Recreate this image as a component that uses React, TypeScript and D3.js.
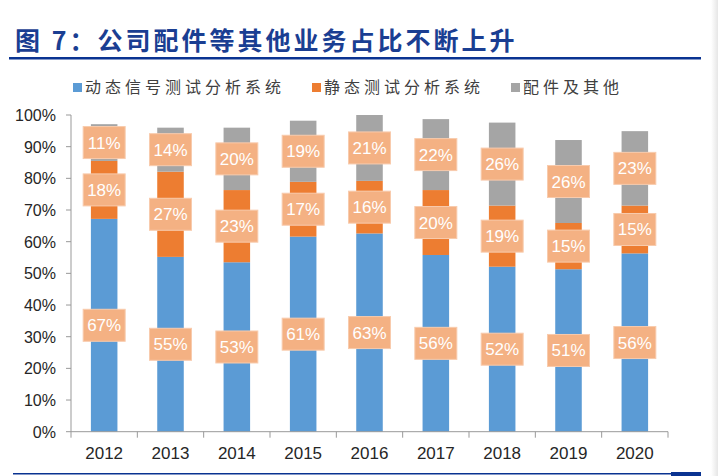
import React from "react";
import * as d3 from "d3";

const years = ["2012", "2013", "2014", "2015", "2016", "2017", "2018", "2019", "2020"];
const dynamicVals = [67.2, 55.2, 53.5, 61.6, 62.6, 55.8, 52.1, 51.3, 56.3];
const staticVals = [18.3, 26.9, 22.8, 17.3, 16.6, 20.5, 19.3, 14.6, 15.1];
const otherVals = [11.6, 13.9, 19.7, 19.3, 20.8, 22.4, 26.2, 26.2, 23.5];
const dynamicLabels = ["67%", "55%", "53%", "61%", "63%", "56%", "52%", "51%", "56%"];
const staticLabels = ["18%", "27%", "23%", "17%", "16%", "20%", "19%", "15%", "15%"];
const otherLabels = ["11%", "14%", "20%", "19%", "21%", "22%", "26%", "26%", "23%"];
const seriesNames = ["动态信号测试分析系统", "静态测试分析系统", "配件及其他"];
const colors = ["#5B9BD5", "#ED7D31", "#A5A5A5"];
const yTicks = [0, 10, 20, 30, 40, 50, 60, 70, 80, 90, 100];

export default function App() {
  const W = 718, H = 476;
  const left = 71, right = 668, top = 115, bottom = 431.7;
  const x = d3.scaleBand<string>().domain(years).range([left, right]).paddingInner(0.6).paddingOuter(0.3);
  const y = d3.scaleLinear().domain([0, 100]).range([bottom, top]);
  const xb = d3.scaleBand<string>().domain(years).range([left, right]);
  const series = [dynamicVals, staticVals, otherVals];
  const labels = [dynamicLabels, staticLabels, otherLabels];
  const font = "'Liberation Sans', Arial, sans-serif";
  const cjk = "'Noto Sans CJK SC', sans-serif";
  const legendX = [73, 312, 511];

  return (
    <svg width={W} height={H} style={{ position: "absolute", left: 0, top: 0, background: "#fff" }}>
      <rect x={0} y={0} width={W} height={H} fill="#fff" />
      <defs>
        <linearGradient id="edge" x1="0" x2="1">
          <stop offset="0" stopColor="#fff" />
          <stop offset="1" stopColor="#e6e6e6" />
        </linearGradient>
      </defs>
      <rect x={711} y={0} width={7} height={H} fill="url(#edge)" />
      <text x={15} y={50} fontFamily={cjk} fontWeight="bold" fontSize={25} letterSpacing={3} fill="#1A3E92">
        图 7：公司配件等其他业务占比不断上升
      </text>
      <rect x={9} y={57} width={692} height={2.5} fill="#0A3391" />
      {seriesNames.map((n, i) => (
        <g key={n}>
          <rect x={legendX[i]} y={83} width={9} height={9} fill={colors[i]} />
          <text x={legendX[i] + 12} y={93} fontFamily={cjk} fontSize={16} letterSpacing={4} fill="#404040">{n}</text>
        </g>
      ))}
      {yTicks.map((t) => (
        <g key={t}>
          <line x1={66} x2={left} y1={y(t)} y2={y(t)} stroke="#999" />
          <text x={56} y={y(t) + 6} textAnchor="end" fontFamily={font} fontSize={16} fill="#262626">{t}%</text>
        </g>
      ))}
      <line x1={left} x2={left} y1={top} y2={bottom} stroke="#999" />
      {years.map((yr, i) => {
        let acc = 0;
        return (
          <g key={yr}>
            {series.map((s, k) => {
              const y0 = acc;
              acc += s[i];
              return (
                <rect key={k} x={x(yr)} width={x.bandwidth()} y={y(acc)} height={y(y0) - y(acc)} fill={colors[k]} />
              );
            })}
          </g>
        );
      })}
      {years.map((yr, i) => {
        let acc = 0;
        const cx = (x(yr) as number) + x.bandwidth() / 2;
        return (
          <g key={"l" + yr}>
            {series.map((s, k) => {
              const mid = acc + s[i] / 2;
              acc += s[i];
              return (
                <g key={k}>
                  <rect x={cx - 21} y={y(mid) - 16} width={42} height={32} fill="#F4B183" stroke="#F8CBAD" strokeWidth={1} />
                  <text x={cx} y={y(mid) + 6} textAnchor="middle" fontFamily={font} fontSize={17} fill="#fff">{labels[k][i]}</text>
                </g>
              );
            })}
          </g>
        );
      })}
      <line x1={left} x2={right} y1={bottom} y2={bottom} stroke="#999" />
      {years.map((yr) => (
        <line key={"t" + yr} x1={xb(yr)} x2={xb(yr)} y1={bottom} y2={bottom + 6} stroke="#999" />
      ))}
      <line x1={right} x2={right} y1={bottom} y2={bottom + 6} stroke="#999" />
      {years.map((yr) => (
        <text key={"x" + yr} x={(x(yr) as number) + x.bandwidth() / 2} y={459} textAnchor="middle" fontFamily={font} fontSize={17} fill="#262626">{yr}</text>
      ))}
      <rect x={13} y={473} width={658} height={1.5} fill="#0A3391" />
      <rect x={671} y={472} width={30} height={4} fill="#0A3391" />
    </svg>
  );
}
